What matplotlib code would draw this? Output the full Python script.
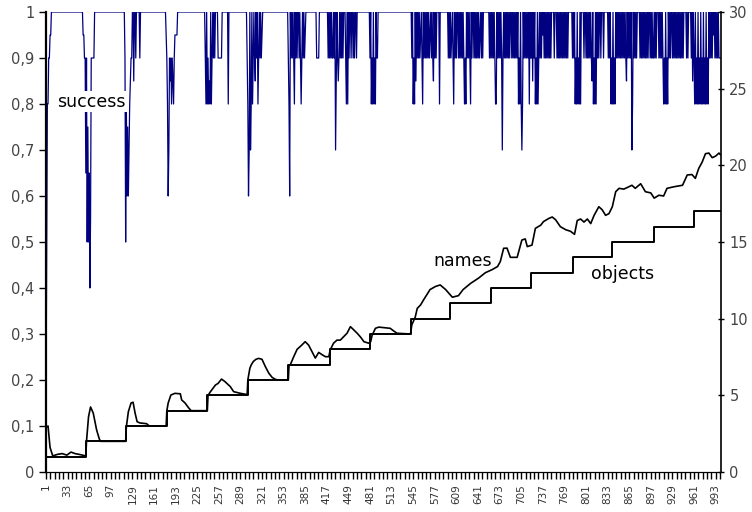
import numpy as np
import matplotlib
matplotlib.use("Agg")
from matplotlib import pyplot as plt
from matplotlib.ticker import FixedLocator, FuncFormatter

N = 1000

# success (left axis, in %): 100 everywhere except these stretches (start index, values)
success_dips = [
    (1, [15, 50, 80, 80, 90, 90, 95, 95]),
    (56, [95, 95, 90, 90, 65, 90, 50, 75, 50, 65, 40, 55, 90, 90, 90, 90, 90]),
    (118, [90, 50, 80, 60, 75, 60, 70, 80, 85, 90, 90]),
    (131, [85]), (134, [90]), (140, [90]),
    (179, [95, 90, 80, 60, 70, 90, 85, 90, 80, 90, 85, 80, 90, 95, 95, 95, 95]),
    (237, [90, 80, 100, 80, 90, 80, 85, 80, 100, 80, 90, 100, 90, 100, 90]),
    (256, [90, 90, 90, 90, 90, 90]),
    (271, [80]),
    (299, [90, 80, 60, 70, 100, 70, 80, 100, 80, 90, 100, 90, 85, 100, 90, 100, 80, 90, 100, 90,
           100, 90, 95]),
    (360, [90, 80, 60, 100, 90, 100, 90, 100, 90, 80, 100, 90, 100, 90, 100, 100, 90, 100, 90, 80,
           90, 100, 90, 100, 90, 95]),
    (402, [90, 90, 90, 90]),
    (419, [90, 100, 90, 100, 90, 100, 90, 90, 100, 90, 100, 70, 85, 100, 90, 85, 90, 100, 90, 100,
           90, 100, 90, 100, 100, 100, 90, 80, 100, 80, 100, 90, 100, 100, 90, 100, 100, 90, 100, 90,
           100, 100, 90]),
    (481, [90, 100, 80, 90, 80, 100, 80, 90, 80, 100, 90, 90]),
    (543, [90, 100, 80, 90, 80, 100, 85, 100, 90, 100, 90, 100, 90, 95, 100, 90, 80, 100, 90, 100,
           90, 100, 90, 100, 90, 100, 90, 95, 100, 90, 100, 90, 85, 100, 90, 100, 90, 100]),
    (584, [80]),
    (597, [90, 100, 90, 100, 90, 95, 100, 90, 80, 100, 90, 100, 90, 100, 100, 90, 100, 90, 100, 90,
           100, 90, 100, 90, 80, 90, 80, 100, 90, 100, 90, 100, 90, 80, 100, 90, 100, 100, 90, 100,
           90, 100, 90, 100, 90, 100, 90, 95, 100, 90, 100, 90, 100]),
    (658, [90, 100, 90, 100, 90, 100, 90, 100, 90, 80, 80, 100, 90, 100, 90, 100, 90, 100, 90, 70,
           90, 100, 90, 100, 90, 100, 90, 100, 90, 100, 90]),
    (691, [90, 100, 90, 100, 90, 100, 90, 100, 90, 100, 80, 90, 80, 100, 80, 70, 80, 100, 90, 100,
           90, 100, 90, 100, 90, 100, 80, 100, 90]),
    (720, [90, 100, 85, 100, 90, 100, 80, 90, 80, 100, 80, 90, 100, 90, 100, 90, 100, 95, 100, 90,
           100, 90, 100, 90, 100, 90, 100, 90, 100, 90, 100, 100, 100, 100, 90, 100, 100, 100, 90, 100,
           90, 100, 90, 100, 90, 100, 90, 100, 90, 100, 90, 100, 90, 100, 90, 100, 100, 100, 100, 100,
           100, 90]),
    (782, [100, 90, 100, 80, 90, 80, 100, 80, 90, 80, 100, 80, 100, 100, 100, 100, 90, 100, 100, 90,
           100, 90, 100, 90, 100, 90, 100, 90, 85, 100, 80, 90, 80, 100, 80, 100, 90, 100, 90, 100]),
    (822, [100, 90, 100, 100, 100, 90, 100, 100, 100, 100, 100, 100, 90, 100, 90, 100, 80, 90, 80, 100,
           80, 90, 80, 100, 90, 100, 90]),
    (849, [100, 90, 100, 90, 100, 90, 100, 90, 100, 90, 100, 90, 85, 100, 90, 100, 90, 100, 90, 100,
           70, 80, 100, 90, 100, 90, 100, 90, 100, 100, 100, 100, 90, 100, 90, 100, 90, 100, 90, 100,
           90, 100, 90, 100, 90, 100, 100, 90, 100, 90, 100, 90]),
    (901, [90, 100, 90, 100, 90, 100, 100, 100, 90, 100, 90, 100, 90, 100, 90, 80, 90, 80, 100, 80,
           90, 80, 100, 90, 100, 90, 100, 100, 90, 100]),
    (931, [90, 100, 90, 100, 90, 100, 90, 100, 90, 100, 90, 100, 90, 100, 90, 100, 100, 100, 100, 90,
           100, 90, 100, 100, 100, 100, 90, 100, 85, 100, 90, 80, 100, 80, 90, 80, 100, 80, 90, 80,
           100, 80, 90, 80, 100, 80, 90, 80, 100, 80, 90, 80, 100, 90, 100, 90, 100, 90, 100, 95,
           100, 90, 100, 90, 100, 90, 100, 90, 90, 90]),
]

# names (right axis), read at key points
names_x = [1, 4, 7, 11, 18, 25, 32, 38, 44, 50, 55, 60,
           61, 64, 67, 71, 76, 80, 82, 119,
           120, 123, 127, 130, 133, 136, 140, 150, 154, 179,
           180, 182, 186, 192, 200, 202, 207, 212, 216, 240,
           241, 244, 252, 256, 261, 266, 274, 279, 289, 299,
           300, 303, 305, 308, 312, 316, 321, 326, 331, 336, 341, 345, 360,
           361, 363, 368, 373, 380, 385, 390, 395, 400, 405, 410, 415, 420,
           422, 427, 432, 437, 442, 447, 452, 457, 462, 467, 472, 479, 482,
           484, 489, 494, 511, 516, 521, 541,
           543, 548, 551, 556, 560, 570, 578, 585, 593, 603, 612, 619, 630,
           642, 652, 662, 670, 674, 679, 684, 689, 699, 706, 711, 714, 721,
           726, 734, 738, 746, 751, 756, 763, 771, 778, 784, 788, 793, 798,
           803, 808, 813, 820, 825, 830, 835, 840, 845, 850, 857, 862, 869,
           874, 882, 889, 897, 902, 909, 916, 921, 931, 944, 951, 958, 963,
           968, 973, 978, 983, 988, 993, 998, 1000]
names_y = [2.9, 3.0, 1.6, 1.05, 1.15, 1.2, 1.1, 1.3, 1.2, 1.15, 1.1, 1.05,
           2.0, 3.6, 4.24, 3.84, 2.74, 2.15, 2.0, 2.0,
           2.93, 3.93, 4.5, 4.55, 3.84, 3.28, 3.2, 3.15, 3.0, 3.0,
           3.98, 4.5, 5.02, 5.13, 5.1, 4.7, 4.5, 4.2, 4.0, 4.0,
           4.98, 5.2, 5.67, 5.78, 6.06, 5.9, 5.57, 5.24, 5.13, 5.05,
           6.0, 6.76, 6.98, 7.2, 7.35, 7.41, 7.35, 6.87, 6.45, 6.17, 6.04, 6.0, 6.0,
           6.93, 7.0, 7.52, 8.0, 8.28, 8.5, 8.28, 7.85, 7.43, 7.8, 7.65, 7.52, 7.52,
           7.96, 8.4, 8.6, 8.6, 8.83, 9.05, 9.48, 9.26, 9.05, 8.8, 8.5, 8.4, 8.5,
           8.9, 9.37, 9.45, 9.37, 9.2, 9.05, 9.0,
           9.6, 10.1, 10.67, 10.9, 11.2, 11.9, 12.1, 12.2, 11.9, 11.4, 11.5, 11.9, 12.3,
           12.65, 13.0, 13.2, 13.4, 13.72, 14.59, 14.6, 14.0, 14.0, 15.13, 15.2, 14.7, 14.8,
           15.89, 16.1, 16.33, 16.54, 16.63, 16.45, 16.0, 15.8, 15.7, 15.5, 16.4, 16.5, 16.3,
           16.5, 16.2, 16.74, 17.3, 17.1, 16.74, 16.85, 17.3, 18.28, 18.5, 18.45, 18.55, 18.7,
           18.5, 18.8, 18.28, 18.2, 17.86, 18.05, 18.0, 18.5, 18.6, 18.7, 19.37, 19.4, 19.15,
           19.8, 20.2, 20.76, 20.8, 20.5, 20.6, 20.8, 20.7]

# objects (right axis): step changes
objects_x = [1, 60, 120, 180, 240, 300, 360, 421, 481, 541, 600, 660, 720, 781, 840, 901, 961, 1000]
objects_y = [1, 2, 3, 4, 5, 6, 7, 8, 9, 10, 11, 12, 13, 14, 15, 16, 17, 17]

idx = np.arange(1, N + 1)
success = np.ones(N)
for start, vals in success_dips:
    success[start - 1:start - 1 + len(vals)] = np.array(vals) / 100.0

fig = plt.figure(figsize=(7.52, 5.12), dpi=100)
ax = fig.add_axes([46 / 752, 40 / 512, 675 / 752, 460 / 512])
ax2 = ax.twinx()

ax.plot(idx, success, color="#000080", lw=0.9)
ax2.plot(names_x, names_y, color="black", lw=1.2)
ax2.step(objects_x, objects_y, where="post", color="black", lw=1.4)

ax.set_xlim(1, N + 1)
ax.set_ylim(0, 1)
ax2.set_ylim(0, 30)

ax.set_yticks(np.arange(0, 1.01, 0.1))
ax.yaxis.set_major_formatter(FuncFormatter(
    lambda v, p: "0" if v < 1e-9 else ("1" if v > 0.999 else f"{v:.1f}".replace(".", ","))))
ax2.set_yticks(range(0, 31, 5))

ax.xaxis.set_major_locator(FixedLocator(range(1, N, 32)))
ax.xaxis.set_minor_locator(FixedLocator(np.arange(1, N + 1, 6.4)))
ax.tick_params(axis="x", which="major", labelrotation=90, labelsize=7.5,
               labelcolor="#333333", length=5, width=1)
ax.tick_params(axis="x", which="minor", length=5, width=1)
ax.tick_params(axis="y", labelsize=10.5, labelcolor="#444444", length=5, width=1)
ax2.tick_params(axis="y", labelsize=10.5, labelcolor="#444444", length=5, width=1,
                direction="inout")

for a in (ax, ax2):
    a.spines["top"].set_visible(False)
ax.spines["left"].set_linewidth(1.6)
ax2.spines["left"].set_visible(False)
ax.spines["right"].set_visible(False)
ax2.spines["right"].set_linewidth(1.2)

ax.text(17, 0.805, "success", fontsize=12.5, va="center", ha="left", zorder=5,
        bbox=dict(facecolor="white", edgecolor="none", pad=1))
ax2.text(575, 13.75, "names", fontsize=12.5, va="center", ha="left")
ax2.text(808, 12.9, "objects", fontsize=12.5, va="center", ha="left")

fig.savefig("out.png", dpi=100)
